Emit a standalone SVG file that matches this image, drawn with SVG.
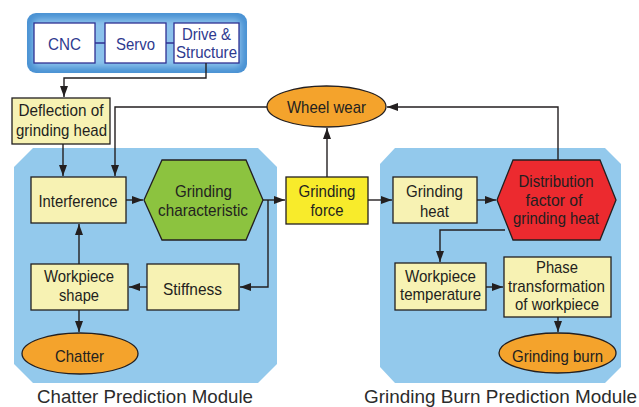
<svg xmlns="http://www.w3.org/2000/svg" width="639" height="407" viewBox="0 0 639 407">
<defs>
<marker id="ah" markerUnits="userSpaceOnUse" markerWidth="12" markerHeight="9" refX="11" refY="4" orient="auto">
<path d="M0,0 L11,4 L0,8 z" fill="#231f20"/>
</marker>
<filter id="blur" x="-10%" y="-20%" width="120%" height="140%"><feGaussianBlur stdDeviation="3"/></filter>
<style>
text{font-family:"Liberation Sans",Arial,sans-serif;font-size:17px;fill:#231f20;text-anchor:middle}
.blue text{fill:#2e3a8f}
.mod{fill:#93c9ec}
.box{fill:#f7f2b3;stroke:#231f20;stroke-width:1.3}
.wbox{fill:#ffffff;stroke:#2e3192;stroke-width:1.3}
.ell{fill:#f4a32c;stroke:#231f20;stroke-width:1.3}
.conn path{fill:none;stroke:#231f20;stroke-width:1.4}
.lbl{font-size:18.5px;fill:#2b2b2b}
</style>
</defs>
<rect width="639" height="407" fill="#ffffff"/>
<g id="modules">
<polygon class="mod" points="33,148 258,148 277,167 277,364 258,383 33,383 14,364 14,167"/>
<polygon class="mod" points="395,148 605,148 621,164 621,367 605,383 395,383 380,367 380,164"/>
<text class="lbl" x="145" y="402.5" textLength="216" lengthAdjust="spacingAndGlyphs">Chatter Prediction Module</text>
<text class="lbl" x="500.5" y="402.5" textLength="273" lengthAdjust="spacingAndGlyphs">Grinding Burn Prediction Module</text>
</g>
<g id="machine" class="blue">
<rect x="27" y="13" width="220" height="60" rx="9" fill="#4a92d3"/>
<rect x="33" y="19" width="208" height="48" rx="6" fill="#8cc2ec" filter="url(#blur)"/>
<path d="M95,43 H105 M166,43 H174" stroke="#2e3192" stroke-width="1.3"/>
<g id="cnc"><rect class="wbox" x="34" y="23" width="61" height="40"/><text x="64.5" y="50" textLength="33" lengthAdjust="spacingAndGlyphs">CNC</text></g>
<g id="servo"><rect class="wbox" x="105" y="23" width="61" height="40"/><text x="135.5" y="50" textLength="39" lengthAdjust="spacingAndGlyphs">Servo</text></g>
<g id="drive"><rect class="wbox" x="174" y="23" width="65" height="40"/><text x="206.5" y="40" textLength="49" lengthAdjust="spacingAndGlyphs">Drive &amp;</text><text x="206.5" y="58" textLength="61" lengthAdjust="spacingAndGlyphs">Structure</text></g>
</g>
<g class="conn" id="connectors">
<path d="M206,63 V78 H64 V97" marker-end="url(#ah)"/>
<path d="M63,144 V176" marker-end="url(#ah)"/>
<path d="M267,107 H115 V176" marker-end="url(#ah)"/>
<path d="M126,200 H143" marker-end="url(#ah)"/>
<path d="M263,200 H285" marker-end="url(#ah)"/>
<path d="M268,200 V287 H240" marker-end="url(#ah)"/>
<path d="M147,287 H129" marker-end="url(#ah)"/>
<path d="M79,264 V224" marker-end="url(#ah)"/>
<path d="M79,310 V332" marker-end="url(#ah)"/>
<path d="M327,177 V128" marker-end="url(#ah)"/>
<path d="M368,200 H392" marker-end="url(#ah)"/>
<path d="M477,200 H496" marker-end="url(#ah)"/>
<path d="M558,160 V107 H387" marker-end="url(#ah)"/>
<path d="M505,230 H440 V262" marker-end="url(#ah)"/>
<path d="M486,287 H503" marker-end="url(#ah)"/>
<path d="M558,317 V332" marker-end="url(#ah)"/>
</g>
<g id="deflection"><rect class="box" x="12" y="98" width="98" height="46"/><text x="61" y="116" textLength="85" lengthAdjust="spacingAndGlyphs">Deflection of</text><text x="61.5" y="136" textLength="91" lengthAdjust="spacingAndGlyphs">grinding head</text></g>
<g id="wheelwear"><ellipse class="ell" cx="326.5" cy="106.5" rx="59.5" ry="20.5"/><text x="326.5" y="113" textLength="79" lengthAdjust="spacingAndGlyphs">Wheel wear</text></g>
<g id="interference"><rect class="box" x="31" y="177" width="95" height="46"/><text x="78" y="207" textLength="79" lengthAdjust="spacingAndGlyphs">Interference</text></g>
<g id="grindchar"><polygon points="144,200 162,160 246,160 263,200 246,240 162,240" fill="#8cc33f" stroke="#231f20" stroke-width="1.3"/><text x="203.5" y="197" textLength="57" lengthAdjust="spacingAndGlyphs">Grinding</text><text x="203" y="216" textLength="90" lengthAdjust="spacingAndGlyphs">characteristic</text></g>
<g id="workshape"><rect class="box" x="31" y="264" width="97" height="46"/><text x="79" y="282" textLength="70" lengthAdjust="spacingAndGlyphs">Workpiece</text><text x="79" y="301" textLength="40" lengthAdjust="spacingAndGlyphs">shape</text></g>
<g id="stiffness"><rect class="box" x="147" y="264" width="92" height="46"/><text x="192.5" y="295" textLength="59" lengthAdjust="spacingAndGlyphs">Stiffness</text></g>
<g id="chatter"><ellipse class="ell" cx="80" cy="353.5" rx="58" ry="20.5"/><text x="79.5" y="362" textLength="49" lengthAdjust="spacingAndGlyphs">Chatter</text></g>
<g id="force"><rect x="286" y="177" width="82" height="47" fill="#f8eb2b" stroke="#231f20" stroke-width="1.3"/><text x="327" y="197" textLength="57" lengthAdjust="spacingAndGlyphs">Grinding</text><text x="327" y="216" textLength="33" lengthAdjust="spacingAndGlyphs">force</text></g>
<g id="heat"><rect class="box" x="393" y="177" width="84" height="46"/><text x="434.5" y="197" textLength="57" lengthAdjust="spacingAndGlyphs">Grinding</text><text x="434.5" y="217" textLength="29" lengthAdjust="spacingAndGlyphs">heat</text></g>
<g id="distribution"><polygon points="497,200 513,160 600,160 616,200 600,240 513,240" fill="#ec2a2f" stroke="#231f20" stroke-width="1.3"/><text x="556" y="187" textLength="75" lengthAdjust="spacingAndGlyphs">Distribution</text><text x="554" y="205.5" textLength="57" lengthAdjust="spacingAndGlyphs">factor of</text><text x="556" y="224" textLength="86" lengthAdjust="spacingAndGlyphs">grinding heat</text></g>
<g id="worktemp"><rect class="box" x="395" y="263" width="91" height="47"/><text x="440.5" y="282" textLength="71" lengthAdjust="spacingAndGlyphs">Workpiece</text><text x="440.5" y="300" textLength="81" lengthAdjust="spacingAndGlyphs">temperature</text></g>
<g id="phase"><rect class="box" x="504" y="257" width="107" height="60"/><text x="557" y="273" textLength="42" lengthAdjust="spacingAndGlyphs">Phase</text><text x="556.5" y="292" textLength="97" lengthAdjust="spacingAndGlyphs">transformation</text><text x="557" y="310" textLength="84" lengthAdjust="spacingAndGlyphs">of workpiece</text></g>
<g id="burn"><ellipse class="ell" cx="557.5" cy="353" rx="58.5" ry="20"/><text x="557.5" y="362" textLength="91" lengthAdjust="spacingAndGlyphs">Grinding burn</text></g>
</svg>
